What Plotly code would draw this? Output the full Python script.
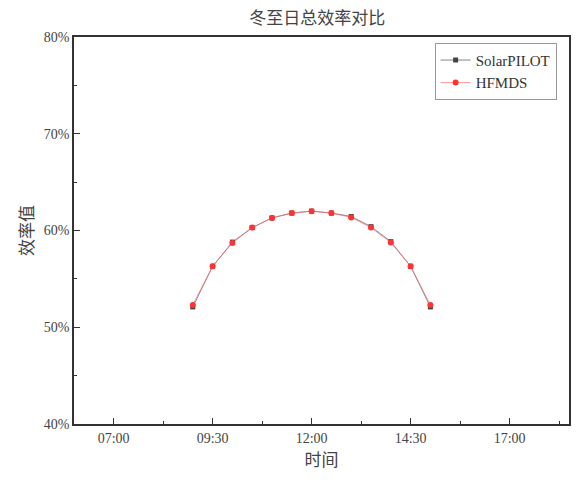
import plotly.graph_objects as go

# Winter-solstice total efficiency, half-hourly samples
times = ["09:00", "09:30", "10:00", "10:30", "11:00", "11:30", "12:00",
         "12:30", "13:00", "13:30", "14:00", "14:30", "15:00"]
solarpilot = [52.1, 56.3, 58.8, 60.3, 61.3, 61.8, 62.0, 61.8, 61.45, 60.4, 58.85, 56.3, 52.1]
hfmds = [52.3, 56.3, 58.7, 60.3, 61.3, 61.8, 62.0, 61.8, 61.35, 60.3, 58.75, 56.3, 52.3]

x_tick_labels = ["07:00", "09:30", "12:00", "14:30", "17:00"]
y_tick_values = [40, 50, 60, 70, 80]
y_tick_labels = ["40%", "50%", "60%", "70%", "80%"]


def to_hours(t):
    h, m = t.split(":")
    return int(h) + int(m) / 60.0


x = [to_hours(t) for t in times]
x_ticks = [to_hours(t) for t in x_tick_labels]

serif = "Liberation Serif, Times New Roman, serif"
cjk = "Noto Sans CJK SC"

fig = go.Figure()
fig.add_trace(go.Scatter(
    x=x, y=solarpilot, name="SolarPILOT", mode="lines+markers",
    line=dict(color="#666666", width=0.8),
    marker=dict(symbol="square", size=5, color="#444444"),
))
fig.add_trace(go.Scatter(
    x=x, y=hfmds, name="HFMDS", mode="lines+markers",
    line=dict(color="#ff7070", width=0.7),
    marker=dict(symbol="circle", size=6, color="#ff3333"),
))

axis_common = dict(
    showgrid=False, zeroline=False, showline=True, linecolor="#333333",
    linewidth=1.5, mirror=True, ticks="inside", ticklen=6, tickwidth=1.2,
    tickcolor="#333333",
    tickfont=dict(family=serif, size=14, color="#444444"),
)

fig.update_xaxes(
    range=[6.0, 18.5], tickvals=x_ticks, ticktext=x_tick_labels,
    minor=dict(dtick=1.25, tick0=7.0, ticks="inside", ticklen=3,
               tickwidth=1.2, tickcolor="#333333"),
    title=dict(text="时间", font=dict(family=cjk, size=17, color="#444444"),
               standoff=8),
    **axis_common,
)
fig.update_yaxes(
    range=[40, 80], tickvals=y_tick_values, ticktext=y_tick_labels,
    minor=dict(dtick=5, ticks="inside", ticklen=3, tickwidth=1.2,
               tickcolor="#333333"),
    title=dict(text="效率值", font=dict(family=cjk, size=17, color="#444444"),
               standoff=6),
    **axis_common,
)

fig.update_layout(
    width=577, height=484,
    margin=dict(l=74, r=6, t=37, b=60),
    paper_bgcolor="white", plot_bgcolor="white",
    title=dict(text="冬至日总效率对比", x=0.55, xanchor="center", y=0.975,
               yanchor="top",
               font=dict(family=cjk, size=17, color="#444444")),
    showlegend=True,
    legend=dict(x=0.975, y=0.985, xanchor="right", yanchor="top",
                bgcolor="white", bordercolor="#999999", borderwidth=1,
                font=dict(family=serif, size=15, color="#333333"),
                itemwidth=30, tracegroupgap=0),
)

fig.write_html("out.html")
